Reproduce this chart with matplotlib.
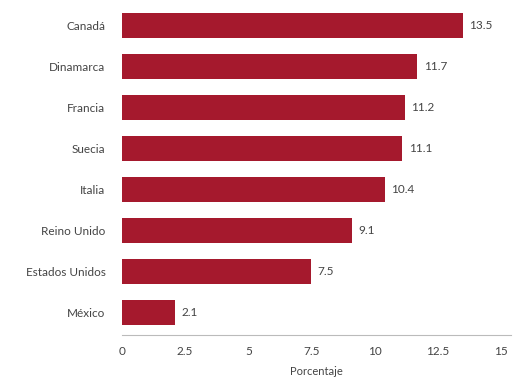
import matplotlib
matplotlib.use("Agg")
import matplotlib.pyplot as plt

countries = ["Canadá", "Dinamarca", "Francia", "Suecia", "Italia", "Reino Unido", "Estados Unidos", "México"]
values = [13.5, 11.7, 11.2, 11.1, 10.4, 9.1, 7.5, 2.1]
xticks = [0, 2.5, 5, 7.5, 10, 12.5, 15]
xtick_labels = ["0", "2.5", "5", "7.5", "10", "12.5", "15"]

plt.rcParams['font.family'] = ['Lato', 'DejaVu Sans']
fig = plt.figure(figsize=(5.15, 3.83), dpi=100)
ax = fig.add_axes([0.237, 0.125, 0.755, 0.867])
ypos = list(range(len(countries)))
ax.barh(ypos, values, height=0.6, color="#A5192D")
for y, v in zip(ypos, values):
    ax.text(v + 0.25, y, f"{v}", va="center", ha="left", fontsize=8.5, color="#444444")
ax.set_yticks(ypos)
ax.set_yticklabels(countries, fontsize=8.5, color="#444444")
ax.set_xticks(xticks)
ax.set_xticklabels(xtick_labels, fontsize=8.5, color="#444444")
ax.set_xlim(0, 15.4)
ax.set_ylim(7.55, -0.55)
ax.tick_params(length=0, pad=8)
ax.tick_params(axis='y', pad=12)
for s in ["top", "right", "left"]:
    ax.spines[s].set_visible(False)
ax.spines["bottom"].set_color("#BBBBBB")
ax.set_xlabel("Porcentaje", fontsize=8, color="#444444", labelpad=6)
fig.savefig("out.png", dpi=100)
